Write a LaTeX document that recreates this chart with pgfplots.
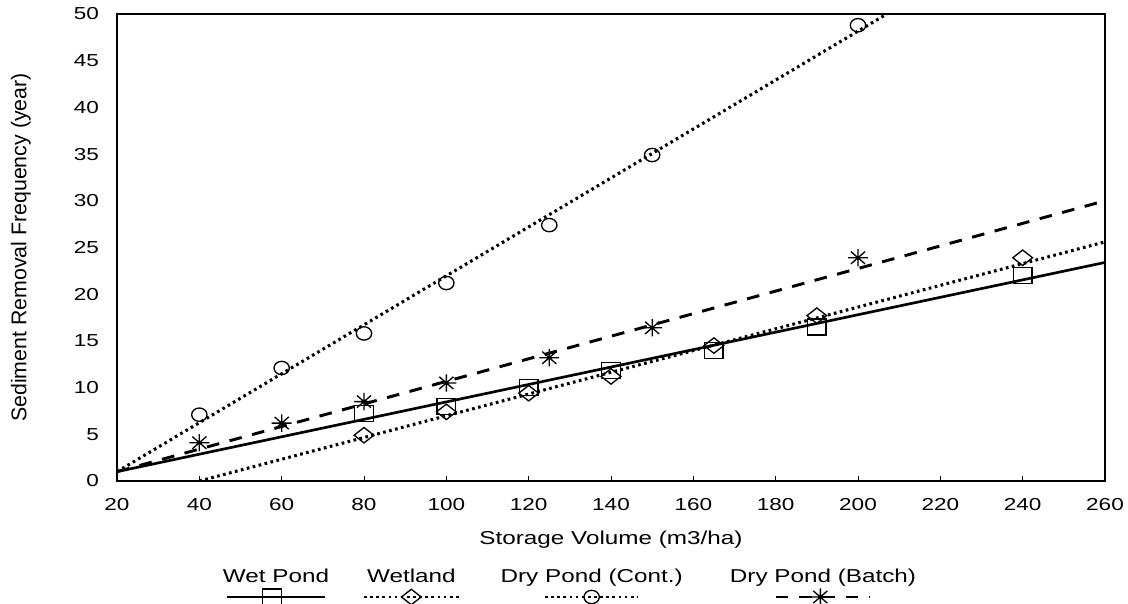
\documentclass[border=0pt]{standalone}
\usepackage{pgfplots}
\pgfplotsset{compat=1.18}
\usepackage{fontspec}
\setmainfont{Liberation Sans}
\newfontfamily\wfont[FakeStretch=1.3]{Liberation Sans}
\newcommand\tickfont{\wfont\fontsize{13}{15}\selectfont}
\newcommand\labfont{\wfont\fontsize{14}{17}\selectfont}
\newcommand\ylabfont{\rmfamily\fontsize{16}{19}\selectfont}
\newcommand\legfont{\wfont\fontsize{14}{17}\selectfont}

\pgfdeclareplotmark{star8}{%
 \pgfpathmoveto{\pgfqpoint{-\pgfplotmarksize}{0pt}}\pgfpathlineto{\pgfqpoint{\pgfplotmarksize}{0pt}}%
 \pgfpathmoveto{\pgfqpoint{0pt}{-\pgfplotmarksize}}\pgfpathlineto{\pgfqpoint{0pt}{\pgfplotmarksize}}%
 \pgfpathmoveto{\pgfqpoint{-0.707\pgfplotmarksize}{-0.707\pgfplotmarksize}}\pgfpathlineto{\pgfqpoint{0.707\pgfplotmarksize}{0.707\pgfplotmarksize}}%
 \pgfpathmoveto{\pgfqpoint{-0.707\pgfplotmarksize}{0.707\pgfplotmarksize}}\pgfpathlineto{\pgfqpoint{0.707\pgfplotmarksize}{-0.707\pgfplotmarksize}}%
 \pgfusepathqstroke}

\tikzset{
 solidln/.style={black, line width=2pt, solid},
 dotln/.style={black, line width=2.3pt, dash pattern=on 2pt off 2.6pt},
 dashln/.style={black, line width=2.2pt, dash pattern=on 9.5pt off 8pt},
 sqm/.style={mark=square, mark size=6pt, mark options={black, solid, line width=1pt, xscale=1.15, fill=none}},
 dmm/.style={mark=diamond, mark size=5.8pt, mark options={black, solid, line width=1pt, xscale=1.7, fill=none}},
 cim/.style={mark=o, mark size=5pt, mark options={black, solid, line width=1pt, xscale=1.15, fill=none}},
 stm/.style={mark=star8, mark size=6.5pt, mark options={black, solid, line width=1pt, xscale=1.15}},
}

\pgfplotstableread{
x y
80 7.2
100 8.0
120 10.0
140 11.8
165 14.0
190 16.5
240 22.0
}\wetpond
\pgfplotstableread{
x y
80 4.9
100 7.4
120 9.4
140 11.2
165 14.5
190 17.7
240 23.9
}\wetland
\pgfplotstableread{
x y
40 7.1
60 12.1
80 15.8
100 21.2
125 27.4
150 34.9
200 48.8
}\drycont
\pgfplotstableread{
x y
40 4.1
60 6.2
80 8.5
100 10.5
125 13.2
150 16.4
200 23.9
}\drybatch

\begin{document}
\begin{tikzpicture}
\begin{axis}[
 name=ax, scale only axis, width=741pt, height=350.25pt,
 xmin=20, xmax=260, ymin=0, ymax=50,
 xtick={20,40,...,260}, ytick={0,5,...,50},
 axis line style={line width=1.8pt},
 tick align=inside, xtick pos=bottom, ytick pos=left,
 major tick length=4pt,
 xtick style={line width=0.6pt,black},
 ytick style={draw=none},
 /pgf/number format/assume math mode=true,
 ticklabel style={font=\tickfont},
 xticklabel style={anchor=center, yshift=-18pt},
 yticklabel style={anchor=east, xshift=-10pt},
 xlabel={Storage Volume (m3/ha)},
 xlabel style={font=\labfont, at={(axis description cs:0.5,-0.126)}, anchor=center},
 ylabel={Sediment Removal Frequency (year)},
 ylabel style={font=\ylabfont, at={(axis description cs:-0.0972,0.5)}, anchor=center},
 legend columns=4,
 legend style={draw=none, fill=none, inner sep=0pt, outer sep=0pt,
   at={(axis description cs:0.1002,-0.1799)}, anchor=north west,
   nodes={inner sep=0pt}, column sep=0pt},
]
% legend entries (text above symbol)
\addlegendimage{legend image code/.code={
  \path[draw=none,fill=none] (-45pt,-7pt) rectangle (45pt,24pt);
  \node[font=\legfont, anchor=base, inner sep=0pt, draw=none, fill=none] at (0pt,11.25pt) {Wet Pond};
  \draw[solidln] (-37pt,0pt) -- (37pt,0pt);
  \draw[sqm] plot coordinates {(-3pt,0pt)};
}}
\addlegendentry{\mbox{}}
\addlegendimage{legend image code/.code={
  \path[draw=none,fill=none] (-55.5pt,-7pt) rectangle (55.5pt,24pt);
  \node[font=\legfont, anchor=base, inner sep=0pt, draw=none, fill=none] at (0pt,11.25pt) {Wetland};
  \draw[dotln, line width=1.6pt] (-35.5pt,0pt) -- (35.5pt,0pt);
  \draw[dmm] plot coordinates {(0pt,0pt)};
}}
\addlegendentry{\mbox{}}
\addlegendimage{legend image code/.code={
  \path[draw=none,fill=none] (-78.75pt,-7pt) rectangle (78.75pt,24pt);
  \node[font=\legfont, anchor=base, inner sep=0pt, draw=none, fill=none] at (0pt,11.25pt) {Dry Pond (Cont.)};
  \draw[dotln, line width=1.6pt] (-35pt,0pt) -- (35pt,0pt);
  \draw[cim] plot coordinates {(0pt,0pt)};
}}
\addlegendentry{\mbox{}}
\addlegendimage{legend image code/.code={
  \path[draw=none,fill=none] (-93.75pt,-7pt) rectangle (93.75pt,24pt);
  \node[font=\legfont, anchor=base, inner sep=0pt, draw=none, fill=none] at (0pt,11.25pt) {Dry Pond (Batch)};
  \draw[dashln] (-35.5pt,0pt) -- (35.5pt,0pt);
  \draw[stm] plot coordinates {(-2pt,0pt)};
}}
\addlegendentry{\mbox{}}

% regression lines
\addplot[solidln, forget plot] coordinates {(20,1.0) (260,23.4)};
\addplot[dotln, forget plot] coordinates {(40,0) (260,25.6)};
\addplot[dotln, forget plot] coordinates {(20,1.0) (207,50)};
\addplot[dashln, forget plot] coordinates {(20,1.0) (260,30.0)};

% observed points
\addplot[only marks, sqm, forget plot] table {\wetpond};
\addplot[only marks, dmm, forget plot] table {\wetland};
\addplot[only marks, cim, forget plot] table {\drycont};
\addplot[only marks, stm, forget plot] table {\drybatch};
\end{axis}
\pgfresetboundingbox
\useasboundingbox ([xshift=-87.75pt,yshift=-92.25pt]ax.south west) rectangle ([xshift=17.25pt,yshift=10.5pt]ax.north east);
\end{tikzpicture}
\end{document}
